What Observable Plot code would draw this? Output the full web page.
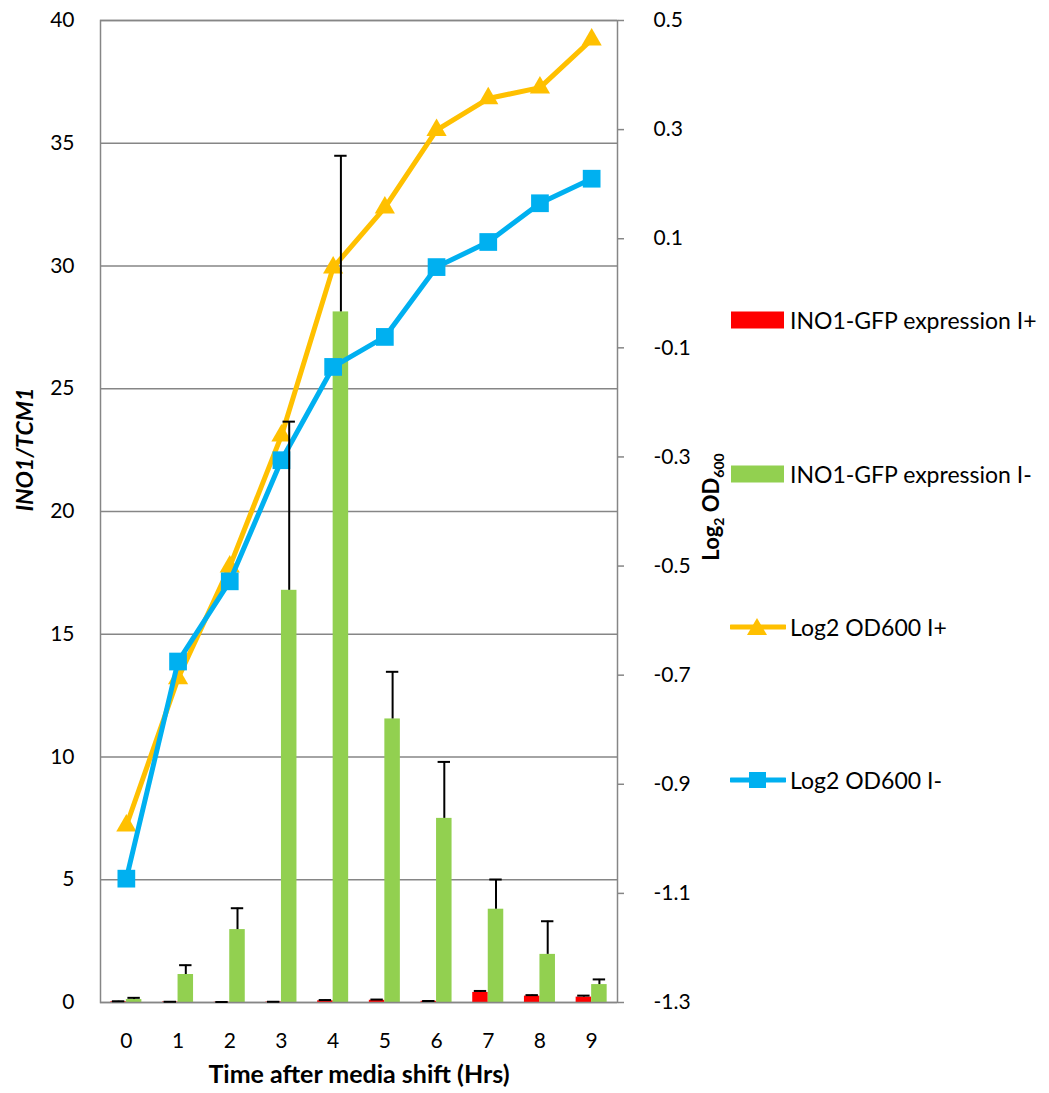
<!DOCTYPE html>
<html><head><meta charset="utf-8">
<script src="https://cdn.jsdelivr.net/npm/d3@7"></script>
<script src="https://cdn.jsdelivr.net/npm/@observablehq/plot@0.6"></script>
<style>
body{margin:0;background:#fff;font-family:Lato,"Open Sans",sans-serif;}
#wrap{position:relative;width:1049px;height:1093px;overflow:hidden;}
.leg{position:absolute;left:730px;height:24px;display:flex;align-items:center;font-size:23px;white-space:nowrap;color:#000;transform:translateY(-50%);}
.leg svg{margin-right:4px;}
#rlab{position:absolute;left:712px;top:507px;transform:translate(-50%,-50%) rotate(-90deg);font-weight:bold;font-size:22px;white-space:nowrap;}
#rlab sub{font-size:14px;}
</style></head><body><div id="wrap"></div>
<script>
const hours = [0,1,2,3,4,5,6,7,8,9];
const expPlus = [0.03,0.02,0.01,0.02,0.07,0.09,0.05,0.41,0.26,0.22];
const expPlusErr = [0.02,0.01,0.01,0.01,0.03,0.03,0.01,0.06,0.04,0.06];
const expMinus = [0.12,1.14,2.97,16.79,28.13,11.55,7.5,3.8,1.96,0.73];
const expMinusErr = [0.07,0.38,0.87,6.87,6.36,1.92,2.3,1.21,1.35,0.21];
const odPlus = [-0.976,-0.706,-0.501,-0.261,0.047,0.157,0.299,0.357,0.377,0.465];
const odMinus = [-1.073,-0.675,-0.528,-0.306,-0.135,-0.080,0.048,0.094,0.165,0.210];
const leftTicks = [0,5,10,15,20,25,30,35,40];
const rightTicks = [-1.3,-1.1,-0.9,-0.7,-0.5,-0.3,-0.1,0.1,0.3,0.5];
const seriesNames = ["INO1-GFP expression I+","INO1-GFP expression I-","Log2 OD600 I+","Log2 OD600 I-"];
const colors = ["#FF0000","#92D050","#FFC000","#00B0F0"];

const rMin = -1.3, rMax = 0.5, lMax = 40;
const toLeft = r => (r - rMin) / (rMax - rMin) * lMax;
const toRight = v => v / lMax * (rMax - rMin) + rMin;

const rows = hours.map((h,i)=>({h, plus:expPlus[i], plusErr:expPlusErr[i], minus:expMinus[i], minusErr:expMinusErr[i], odP:toLeft(odPlus[i]), odM:toLeft(odMinus[i])}));
const bw = 0.3, cap = 0.12;

const chart = Plot.plot({
  width:1049, height:1093, marginTop:20, marginBottom:91, marginLeft:100, marginRight:432,
  style:{fontFamily:"Lato, 'Open Sans', sans-serif", fontSize:"21px", color:"#000", background:"#fff", overflow:"visible"},
  x:{domain:[-0.5,9.5], axis:null},
  y:{domain:[0,40], axis:null},
  marks:[
    Plot.gridY(leftTicks,{stroke:"#868686", strokeOpacity:1, strokeWidth:1.5}),
    Plot.axisY(leftTicks,{anchor:"left", tickSize:0, tickPadding:26, label:null, fontSize:21}),
    Plot.axisY(rightTicks.map(toLeft),{anchor:"right", tickSize:6, tickPadding:30, stroke:"#868686", strokeWidth:1.5, fill:"#000", label:null, fontSize:21, tickFormat:v=>toRight(v).toFixed(1)}),
    Plot.axisX(hours,{anchor:"bottom", tickSize:0, tickPadding:31, label:null, fontSize:21}),
    Plot.rectY(rows,{x1:d=>d.h-bw, x2:d=>d.h, y:"plus", fill:colors[0]}),
    Plot.rectY(rows,{x1:d=>d.h, x2:d=>d.h+bw, y:"minus", fill:colors[1]}),
    Plot.frame({stroke:"#868686", strokeWidth:1.5}),
    Plot.line(rows,{x:"h", y:"odP", stroke:colors[2], strokeWidth:5}),
    Plot.dot(rows,{x:"h", y:"odP", symbol:"triangle", r:7.5, fill:colors[2]}),
    Plot.line(rows,{x:"h", y:"odM", stroke:colors[3], strokeWidth:5}),
    Plot.dot(rows,{x:"h", y:"odM", symbol:"square", r:10, fill:colors[3]}),
    Plot.ruleX(rows,{x:d=>d.h-bw/2, y1:"plus", y2:d=>d.plus+d.plusErr, stroke:"#000", strokeWidth:2}),
    Plot.ruleY(rows,{y:d=>d.plus+d.plusErr, x1:d=>d.h-bw/2-cap, x2:d=>d.h-bw/2+cap, stroke:"#000", strokeWidth:2}),
    Plot.ruleX(rows,{x:d=>d.h+bw/2, y1:"minus", y2:d=>d.minus+d.minusErr, stroke:"#000", strokeWidth:2}),
    Plot.ruleY(rows,{y:d=>d.minus+d.minusErr, x1:d=>d.h+bw/2-cap, x2:d=>d.h+bw/2+cap, stroke:"#000", strokeWidth:2}),
    Plot.text(["Time after media shift (Hrs)"],{frameAnchor:"bottom", dy:80, fontWeight:"bold", fontSize:25}),
    Plot.text(["INO1/TCM1"],{frameAnchor:"left", dx:-75, rotate:-90, fontWeight:"bold", fontStyle:"italic", fontSize:23})
  ]
});
const wrap = document.getElementById("wrap");
wrap.appendChild(chart);

const rl = document.createElement("div");
rl.id = "rlab";
rl.innerHTML = "Log<sub>2</sub> OD<sub>600</sub>";
wrap.appendChild(rl);

const legY = [320,474,627,780];
seriesNames.forEach((name,i)=>{
  const d = document.createElement("div");
  d.className = "leg";
  d.style.top = legY[i] + "px";
  let sw;
  if (i < 2) sw = `<svg width="56" height="22"><rect x="1" y="2.5" width="53" height="17" fill="${colors[i]}"/></svg>`;
  else if (i === 2) sw = `<svg width="56" height="22"><line x1="1" x2="55" y1="11" y2="11" stroke="${colors[i]}" stroke-width="5" stroke-linecap="round"/><path d="M27,2 L37,19 L17,19 Z" fill="${colors[i]}"/></svg>`;
  else sw = `<svg width="56" height="22"><line x1="1" x2="55" y1="11" y2="11" stroke="${colors[i]}" stroke-width="5" stroke-linecap="round"/><rect x="19" y="3" width="17" height="16" fill="${colors[i]}"/></svg>`;
  d.innerHTML = sw + `<span>${name}</span>`;
  wrap.appendChild(d);
});
</script></body></html>
